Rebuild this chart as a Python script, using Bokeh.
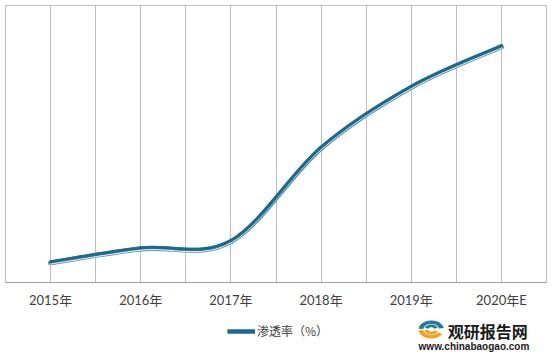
from bokeh.plotting import figure
from bokeh.layouts import column
from bokeh.models import Range1d, FixedTicker, Legend, LegendItem
from bokeh.core.properties import value
from bokeh.embed import file_html
from bokeh.resources import INLINE
import numpy as np

# ---- data ----
years = ["2015年", "2016年", "2017年", "2018年", "2019年", "2020年E"]
rate = [2.2, 3.7, 4.5, 14.6, 21.2, 25.6]
series_name = "渗透率（%）"

W = 554
FRAME_H = 278
AXIS_H = 27
H_TOP = 5 + FRAME_H + AXIS_H   # 310
H_BOT = 357 - H_TOP            # 47
Y_MAX = 30
n = len(years)

DARK = "#1A6A8D"
MID = "#5A90AE"

p = figure(width=W, height=H_TOP, output_backend="svg", toolbar_location=None,
           x_range=Range1d(0, n), y_range=Range1d(0, Y_MAX),
           min_border_left=5, min_border_right=8, min_border_top=5, min_border_bottom=AXIS_H)
p.background_fill_color = "white"
p.border_fill_color = "white"
p.outline_line_color = "#BFBFBF"
p.outline_line_width = 1

x_pos = [i + 0.5 for i in range(n)]

# axes
p.yaxis.visible = False
p.ygrid.grid_line_color = None
ax = p.xaxis[0]
ax.ticker = FixedTicker(ticks=x_pos)
ax.major_label_overrides = {x: lab for x, lab in zip(x_pos, years)}
ax.major_tick_line_color = None
ax.minor_tick_line_color = None
ax.major_tick_out = 0
ax.major_tick_in = 0
ax.minor_tick_out = 0
ax.axis_line_color = "#A0A0A0"
ax.major_label_standoff = 9
ax.major_label_text_font = "Lato, 'Noto Sans CJK SC'"
ax.major_label_text_font_size = "13px"
ax.major_label_text_color = "#404040"
p.xgrid.ticker = FixedTicker(ticks=[k * 0.5 for k in range(0, 2 * n + 1)])
p.xgrid.grid_line_color = "#BFBFBF"
p.xgrid.grid_line_width = 1

# smoothed line via bezier segments whose control points come from the data points
xs = np.array(x_pos, dtype=float)
ys = np.array(rate, dtype=float)
x0, y0, x1, y1, cx0, cy0, cx1, cy1 = [], [], [], [], [], [], [], []
for i in range(n - 1):
    ip = max(i - 1, 0)
    inn = min(i + 2, n - 1)
    x0.append(xs[i]); y0.append(ys[i])
    x1.append(xs[i + 1]); y1.append(ys[i + 1])
    cx0.append(xs[i] + (xs[i + 1] - xs[ip]) / 6)
    cy0.append(ys[i] + (ys[i + 1] - ys[ip]) / 6)
    cx1.append(xs[i + 1] - (xs[inn] - xs[i]) / 6)
    cy1.append(ys[i + 1] - (ys[inn] - ys[i]) / 6)

px = Y_MAX / FRAME_H


def shifted(arr, d):
    return [v + d * px for v in arr]


for color, width, off in [(MID, 5, -0.6), ("#E8F0F5", 1, -1.9), (DARK, 3, 0.5)]:
    p.bezier(x0=x0, y0=shifted(y0, off), x1=x1, y1=shifted(y1, off),
             cx0=cx0, cy0=shifted(cy0, off), cx1=cx1, cy1=shifted(cy1, off),
             line_color=color, line_width=width, line_cap="round")

# ---- bottom strip: legend + watermark ----
q = figure(width=W, height=H_BOT, output_backend="svg", toolbar_location=None,
           x_range=Range1d(0, W), y_range=Range1d(0, H_BOT),
           min_border=0)
q.axis.visible = False
q.grid.grid_line_color = None
q.outline_line_color = None
q.background_fill_color = "white"
q.border_fill_color = "white"

# legend proxies (placed off-view; only their styles are shown in the legend)
leg_base = q.line(x=[-50, -40], y=[-50, -50], line_color=MID, line_width=5)
leg_dark = q.line(x=[-50, -40], y=[-50, -50], line_color=DARK, line_width=3)
legend = Legend(items=[LegendItem(label=series_name, renderers=[leg_base, leg_dark])],
                orientation="horizontal", location=(222, 18),
                glyph_width=28, glyph_height=12, label_height=14, label_standoff=2,
                label_text_font="'Noto Sans CJK SC'", label_text_font_size="12px",
                label_text_color="#404040", border_line_color=None,
                background_fill_alpha=0, padding=0, spacing=0)
q.add_layout(legend, "center")

q.text(x=[453], y=[27], text=["观研报告网"], text_font=value("Noto Sans CJK SC"),
       text_font_size="16px", text_font_style="bold", text_color="#1a1a1a",
       text_baseline="middle")
q.text(x=[423], y=[11], text=["www.chinabaogao.com"], text_font=value("Liberation Sans"),
       text_font_size="10px", text_font_style="bold", text_color="#1a1a1a",
       text_baseline="middle")


def arc_poly(cx, cy, rx, ry, k, a0, a1):
    t = np.linspace(np.radians(a0), np.radians(a1), 30)
    ox = cx + rx * np.cos(t); oy = cy + ry * np.sin(t)
    ix = cx + rx * k * np.cos(t[::-1]); iy = cy + ry * k * np.sin(t[::-1])
    return list(np.concatenate([ox, ix])), list(np.concatenate([oy, iy]))


cxl, cyl = 436, 28
pxs_all, pys_all, cols = [], [], []
for (rx, ry, k, a0, a1, col) in [(13, 9, 0.62, 10, 175, "#1F7C9C"),
                                 (13, 9, 0.62, 185, 330, "#F5A11C"),
                                 (7, 5, 0.45, 190, 340, "#F5A11C"),
                                 (7, 5, 0.45, 20, 160, "#1F7C9C")]:
    a, b = arc_poly(cxl, cyl, rx, ry, k, a0, a1)
    pxs_all.append(a); pys_all.append(b); cols.append(col)
q.patches(xs=pxs_all, ys=pys_all, fill_color=cols, line_color=None)

layout = column(p, q, spacing=0)
open("out.html", "w").write(file_html(layout, INLINE))
